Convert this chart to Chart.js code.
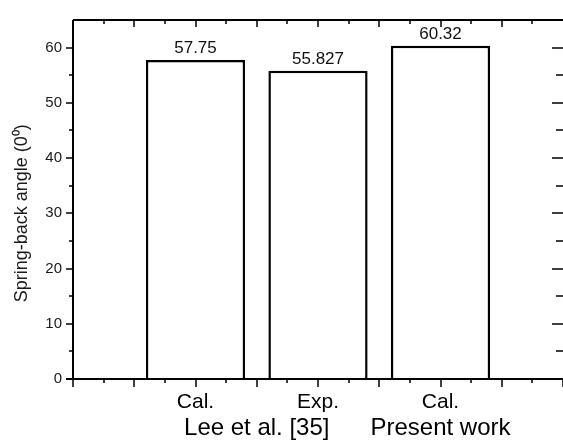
<!DOCTYPE html>
<html>
<head>
<meta charset="utf-8">
<script src="https://cdn.jsdelivr.net/npm/chart.js@4/dist/chart.umd.min.js"></script>
<style>
  html, body { margin: 0; padding: 0; background: #fff; }
  #wrap { width: 563px; height: 443px; }
</style>
</head>
<body>
<div id="wrap"><canvas id="graph"></canvas></div>
<script>
// values
const barPositions = [1, 2, 3];
const barLabels = ['Cal.', 'Exp.', 'Cal.'];
const springBack = [57.75, 55.827, 60.32];
const valueLabels = ['57.75', '55.827', '60.32'];
const groupPositions = [1.5, 3];
const groupLabels = ['Lee et al. [35]', 'Present work'];
const yTicks = [0, 10, 20, 30, 40, 50, 60];
const yMax = 65;
const xMax = 4;
const yTitle = 'Spring-back angle (0\u2070)';

const FONT = '"Liberation Sans", Arial, sans-serif';

// frame with inward / outward ticks like the original plot
const framePlugin = {
    id: 'frame',
    afterDraw(chart) {
        const ctx = chart.ctx;
        const { left, right, top, bottom } = chart.chartArea;
        const xs = chart.scales.x;
        const ys = chart.scales.y;
        ctx.save();
        ctx.strokeStyle = '#000';
        ctx.lineWidth = 2;
        ctx.beginPath();
        ctx.moveTo(left, top); ctx.lineTo(right, top);
        ctx.moveTo(left, top); ctx.lineTo(left, bottom);
        ctx.moveTo(left - 7, bottom); ctx.lineTo(right, bottom);
        ctx.stroke();

        ctx.lineWidth = 1.5;
        ctx.beginPath();
        for (let v = 0; v <= xMax; v += 0.25) {
            const px = Math.round(xs.getPixelForValue(v));
            const major = (v * 2) % 1 === 0;
            ctx.moveTo(px, bottom);
            ctx.lineTo(px, bottom + (major ? 8 : 4));
            if (v > 0 && v < xMax) {
                ctx.moveTo(px, top);
                ctx.lineTo(px, top + (major ? 7 : 4));
            }
        }
        for (let v = 0; v <= 60; v += 5) {
            const py = Math.round(ys.getPixelForValue(v));
            const major = v % 10 === 0;
            ctx.moveTo(left, py);
            ctx.lineTo(left - (major ? 7 : 4), py);
            ctx.moveTo(right, py);
            ctx.lineTo(right - (major ? 11 : 7), py);
        }
        ctx.stroke();

        // y title, centred on the 30 mark
        ctx.fillStyle = '#1a1a1a';
        ctx.font = '18px ' + FONT;
        ctx.textAlign = 'center';
        ctx.textBaseline = 'middle';
        ctx.translate(22, ys.getPixelForValue(30));
        ctx.rotate(-Math.PI / 2);
        ctx.fillText(yTitle, 0, 0);
        ctx.restore();
    },
    afterDatasetsDraw(chart) {
        const ctx = chart.ctx;
        const meta = chart.getDatasetMeta(0);
        ctx.save();
        ctx.fillStyle = '#111';
        ctx.font = '17px ' + FONT;
        ctx.textAlign = 'center';
        ctx.textBaseline = 'alphabetic';
        meta.data.forEach((bar, i) => {
            ctx.fillText(valueLabels[i], bar.x, bar.y - 7);
        });
        ctx.restore();
    }
};

const chart = new Chart(document.getElementById('graph'), {
    type: 'bar',
    data: {
        datasets: [{
            data: barPositions.map((x, i) => ({ x: x, y: springBack[i] })),
            backgroundColor: '#fff',
            borderColor: '#000',
            borderWidth: 2.5,
            barPercentage: 0.81,
            categoryPercentage: 1
        }]
    },
    options: {
        responsive: true,
        maintainAspectRatio: false,
        animation: false,
        layout: { padding: { top: 14, right: 0, left: 0, bottom: 0 } },
        plugins: { legend: { display: false }, tooltip: { enabled: false } },
        scales: {
            x: {
                type: 'linear',
                offset: false,
                min: 0,
                max: xMax,
                grid: { display: false, drawTicks: false, offset: false },
                border: { display: false },
                afterBuildTicks: (scale) => {
                    scale.ticks = barPositions.map(v => ({ value: v }));
                },
                afterFit: (scale) => { scale.height = 35; },
                ticks: {
                    padding: 11,
                    maxRotation: 0,
                    autoSkip: false,
                    color: '#000',
                    font: { family: FONT, size: 21 },
                    callback: (value) => barLabels[barPositions.indexOf(value)]
                }
            },
            x2: {
                type: 'linear',
                position: 'bottom',
                offset: false,
                min: 0,
                max: xMax,
                grid: { display: false, drawTicks: false, offset: false },
                border: { display: false },
                afterBuildTicks: (scale) => {
                    scale.ticks = groupPositions.map(v => ({ value: v }));
                },
                afterFit: (scale) => { scale.height = 29; },
                ticks: {
                    padding: 0,
                    maxRotation: 0,
                    autoSkip: false,
                    color: '#000',
                    font: { family: FONT, size: 24 },
                    callback: (value) => groupLabels[groupPositions.indexOf(value)]
                }
            },
            y: {
                min: 0,
                max: yMax,
                grid: { display: false, drawTicks: false },
                border: { display: false },
                afterBuildTicks: (scale) => {
                    scale.ticks = yTicks.map(v => ({ value: v }));
                },
                afterFit: (scale) => { scale.width = 73; },
                ticks: {
                    padding: 11,
                    color: '#1a1a1a',
                    font: { family: FONT, size: 15 }
                }
            }
        }
    },
    plugins: [framePlugin]
});
</script>
</body>
</html>
